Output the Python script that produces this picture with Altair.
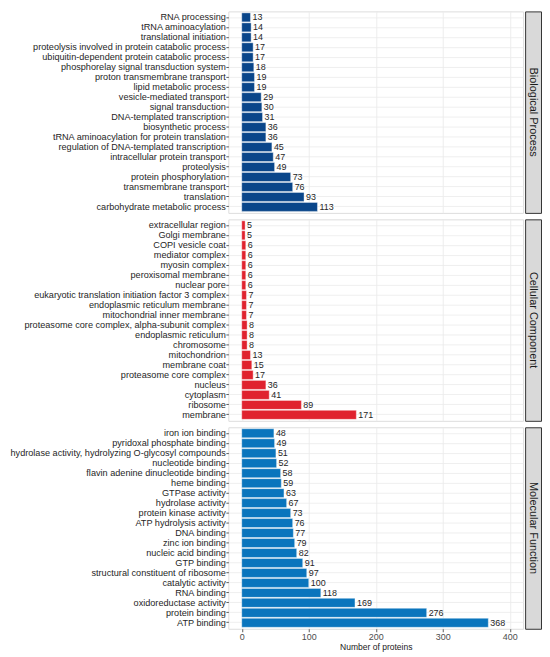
import altair as alt
import pandas as pd

bp_terms = [
    "RNA processing", "tRNA aminoacylation", "translational initiation",
    "proteolysis involved in protein catabolic process",
    "ubiquitin-dependent protein catabolic process",
    "phosphorelay signal transduction system", "proton transmembrane transport",
    "lipid metabolic process", "vesicle-mediated transport", "signal transduction",
    "DNA-templated transcription", "biosynthetic process",
    "tRNA aminoacylation for protein translation",
    "regulation of DNA-templated transcription", "intracellular protein transport",
    "proteolysis", "protein phosphorylation", "transmembrane transport",
    "translation", "carbohydrate metabolic process",
]
bp_counts = [13, 14, 14, 17, 17, 18, 19, 19, 29, 30, 31, 36, 36, 45, 47, 49, 73, 76, 93, 113]

cc_terms = [
    "extracellular region", "Golgi membrane", "COPI vesicle coat", "mediator complex",
    "myosin complex", "peroxisomal membrane", "nuclear pore",
    "eukaryotic translation initiation factor 3 complex",
    "endoplasmic reticulum membrane", "mitochondrial inner membrane",
    "proteasome core complex, alpha-subunit complex", "endoplasmic reticulum",
    "chromosome", "mitochondrion", "membrane coat", "proteasome core complex",
    "nucleus", "cytoplasm", "ribosome", "membrane",
]
cc_counts = [5, 5, 6, 6, 6, 6, 6, 7, 7, 7, 8, 8, 8, 13, 15, 17, 36, 41, 89, 171]

mf_terms = [
    "iron ion binding", "pyridoxal phosphate binding",
    "hydrolase activity, hydrolyzing O-glycosyl compounds", "nucleotide binding",
    "flavin adenine dinucleotide binding", "heme binding", "GTPase activity",
    "hydrolase activity", "protein kinase activity", "ATP hydrolysis activity",
    "DNA binding", "zinc ion binding", "nucleic acid binding", "GTP binding",
    "structural constituent of ribosome", "catalytic activity", "RNA binding",
    "oxidoreductase activity", "protein binding", "ATP binding",
]
mf_counts = [48, 49, 51, 52, 58, 59, 63, 67, 73, 76, 77, 79, 82, 91, 97, 100, 118, 169, 276, 368]

groups = ["Biological Process", "Cellular Component", "Molecular Function"]
colors = ["#0A468A", "#E0222E", "#0A75BD"]
x_grid_values = [0, 50, 100, 150, 200, 250, 300, 350, 400]

PANEL_W = 297
PANEL_H = 203
STRIP_W = 16
AXIS_EXT = 221
FONT = "Liberation Sans"


def panel(terms, counts, color, bottom):
    df = pd.DataFrame({"term": terms, "count": counts})
    y = alt.Y(
        "term:N", sort=terms,
        scale=alt.Scale(paddingInner=0.1, paddingOuter=0.15),
        axis=alt.Axis(
            title=None, domain=False, grid=True, gridColor="#EBEBEB", gridWidth=0.8,
            bandPosition=0.5, ticks=True, tickColor="#333333", tickSize=2.5,
            tickWidth=0.8, labelFontSize=9.2, labelColor="#262626", labelPadding=0.5,
            labelLimit=400, minExtent=AXIS_EXT, maxExtent=AXIS_EXT, labelFont=FONT,
        ),
    )
    major = "datum.value % 100 === 0"
    if bottom:
        xaxis = alt.Axis(
            values=x_grid_values, title="Number of proteins", domain=False,
            grid=True, gridColor="#EBEBEB",
            gridWidth={"condition": {"test": major, "value": 0.9}, "value": 0.5},
            ticks=True, tickColor="#333333", tickSize=3, tickWidth=0.8,
            tickOpacity={"condition": {"test": major, "value": 1}, "value": 0},
            labelExpr="datum.value % 100 === 0 ? datum.label : ''",
            labelFontSize=9, labelColor="#4D4D4D", labelPadding=0.5, labelFont=FONT,
            titleFontSize=8.6, titleFontWeight="normal", titleColor="#1A1A1A",
            titlePadding=1.5, titleFont=FONT,
        )
    else:
        xaxis = alt.Axis(
            values=x_grid_values, title=None, domain=False, grid=True,
            gridColor="#EBEBEB",
            gridWidth={"condition": {"test": major, "value": 0.9}, "value": 0.5},
            ticks=False, labels=False,
        )
    x = alt.X("count:Q", scale=alt.Scale(domain=[-20, 420], nice=False, zero=False),
              axis=xaxis)
    base = alt.Chart(df)
    bars = base.mark_bar(color=color, stroke="#ffffff", strokeOpacity=0.55,
                         strokeWidth=0.7).encode(
        y=y, x=x, x2=alt.datum(0)
    )
    text = base.mark_text(align="left", baseline="middle", dx=2, fontSize=9,
                          font=FONT, color="#262626").encode(
        y=alt.Y("term:N", sort=terms), x="count:Q", text="count:Q"
    )
    return alt.layer(bars, text).properties(width=PANEL_W, height=PANEL_H)


def strip(name):
    df = pd.DataFrame({"label": [name]})
    return alt.Chart(df).mark_text(
        angle=90, fontSize=11, font=FONT, color="#1A1A1A",
        align="center", baseline="middle",
    ).encode(
        text="label:N", x=alt.value(STRIP_W / 2), y=alt.value(PANEL_H / 2)
    ).properties(
        width=STRIP_W, height=PANEL_H,
        view=alt.ViewBackground(fill="#D9D9D9", stroke="#333333", strokeWidth=1),
    )


rows = []
data_sets = [(bp_terms, bp_counts), (cc_terms, cc_counts), (mf_terms, mf_counts)]
for i, (terms, counts) in enumerate(data_sets):
    p = panel(terms, counts, colors[i], bottom=(i == 2))
    rows.append(alt.hconcat(p, strip(groups[i]), spacing=0))

chart = alt.vconcat(*rows, spacing=4.5).properties(
    padding=0, background="white"
).configure_view(
    stroke="#333333", strokeWidth=1
).configure(font=FONT)

chart.save("out.html", embed_options={"renderer": "svg", "actions": False})
